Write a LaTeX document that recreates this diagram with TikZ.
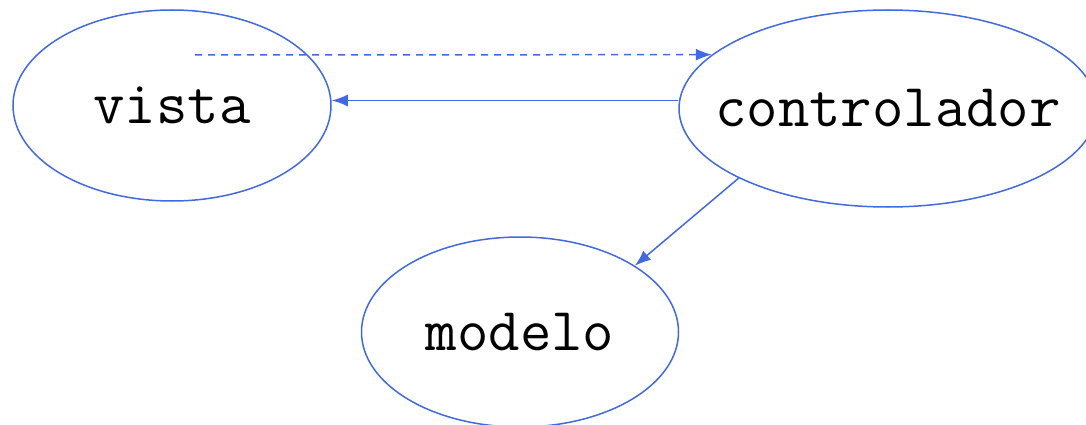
\documentclass[tikz,border=0pt]{standalone}
\usepackage{tikz}
\usetikzlibrary{shapes.geometric}
\usetikzlibrary{arrows.meta}
\usepackage{xcolor}
\definecolor{royal}{HTML}{4169E1}

\tikzset{
    blob/.style = {ellipse, draw = royal, line width = 1.5pt, inner sep = 0pt,
        label = {[font = \ttfamily\fontsize{61}{66}\selectfont]center:#1}},
    link/.style = {draw = royal, line width = 1.5pt, -{Latex[length = 16pt, width = 12pt]}}
}

\begin{document}
\begin{tikzpicture}[x = 1pt, y = -1pt]
        \useasboundingbox (0, 0) rectangle (1086, 425);
        \node[blob = vista, minimum width = 318pt, minimum height = 191pt] (vista) at (172, 105.5) {};
        \node[blob = controlador, minimum width = 418pt, minimum height = 197pt] (controlador) at (888, 108.5) {};
        \node[blob = modelo, minimum width = 317pt, minimum height = 190pt] (modelo) at (520, 332) {};
        \coordinate (vtop) at (195, 55);
        \draw[link, dashed, dash pattern = on 7pt off 6pt] (vtop) -- (controlador.163);
        \draw[link] ([yshift = 8pt]controlador.west) -- ([yshift = 5pt]vista.east);
        \draw[link] (controlador.205) -- (modelo.30);
    \end{tikzpicture}
\end{document}
